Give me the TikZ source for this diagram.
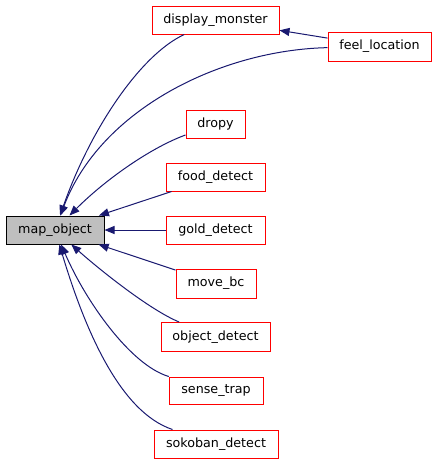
\documentclass[tikz,border=0pt]{standalone}
\usepackage{fontspec}
\setmainfont{DejaVu Sans}
\usetikzlibrary{arrows.meta}
\definecolor{edgeblue}{HTML}{191970}
\definecolor{boxred}{HTML}{FF0000}
\definecolor{boxgrey}{HTML}{BFBFBF}
\begin{document}
\begin{tikzpicture}[x=1pt,y=-1pt,
  fn/.style={draw=boxred, line width=1pt, fill=white, rectangle, minimum height=28pt, inner sep=0pt, font=\fontsize{12.7}{14}\selectfont},
  mainnode/.style={draw=black, line width=1pt, fill=boxgrey, rectangle, minimum height=28pt, inner sep=0pt, font=\fontsize{12.7}{14}\selectfont},
  edge/.style={draw=edgeblue, line width=1pt, -{Triangle[length=10pt,width=8pt]}, fill=none}]
\useasboundingbox (0,0) rectangle (437,464);
\node[mainnode, minimum width=98pt] (mo) at (55,230) {map\_object};
\node[fn, minimum width=127pt] (dm) at (215.5,20) {display\_monster};
\node[fn, minimum width=103pt, minimum height=29pt] (fl) at (379.5,46.5) {feel\_location};
\node[fn, minimum width=59pt] (dr) at (215.5,124) {dropy};
\node[fn, minimum width=99pt] (fd) at (215.5,177) {food\_detect};
\node[fn, minimum width=99pt] (gd) at (215.5,230) {gold\_detect};
\node[fn, minimum width=80pt, minimum height=29pt] (mb) at (216,283.5) {move\_bc};
\node[fn, minimum width=109pt, minimum height=29pt] (od) at (215.5,337) {object\_detect};
\node[fn, minimum width=94pt, minimum height=27pt] (st) at (216,390.5) {sense\_trap};
\node[fn, minimum width=124pt] (sd) at (216,444) {sokoban\_detect};
\draw[edge] (dm) .. controls (140,55) and (90,130) .. (mo);
\draw[edge] (fl) .. controls (220,50) and (100,110) .. (mo);
\draw[edge] (fl) -- (dm);
\draw[edge] (dr) .. controls (150,148) and (105,180) .. (mo);
\draw[edge] (fd) -- (mo);
\draw[edge] (gd) -- (mo);
\draw[edge] (mb) -- (mo);
\draw[edge] (od) .. controls (150,310) and (100,270) .. (mo);
\draw[edge] (st) .. controls (130,365) and (85,300) .. (mo);
\draw[edge] (sd) .. controls (120,412) and (85,330) .. (mo);
\end{tikzpicture}
\end{document}
